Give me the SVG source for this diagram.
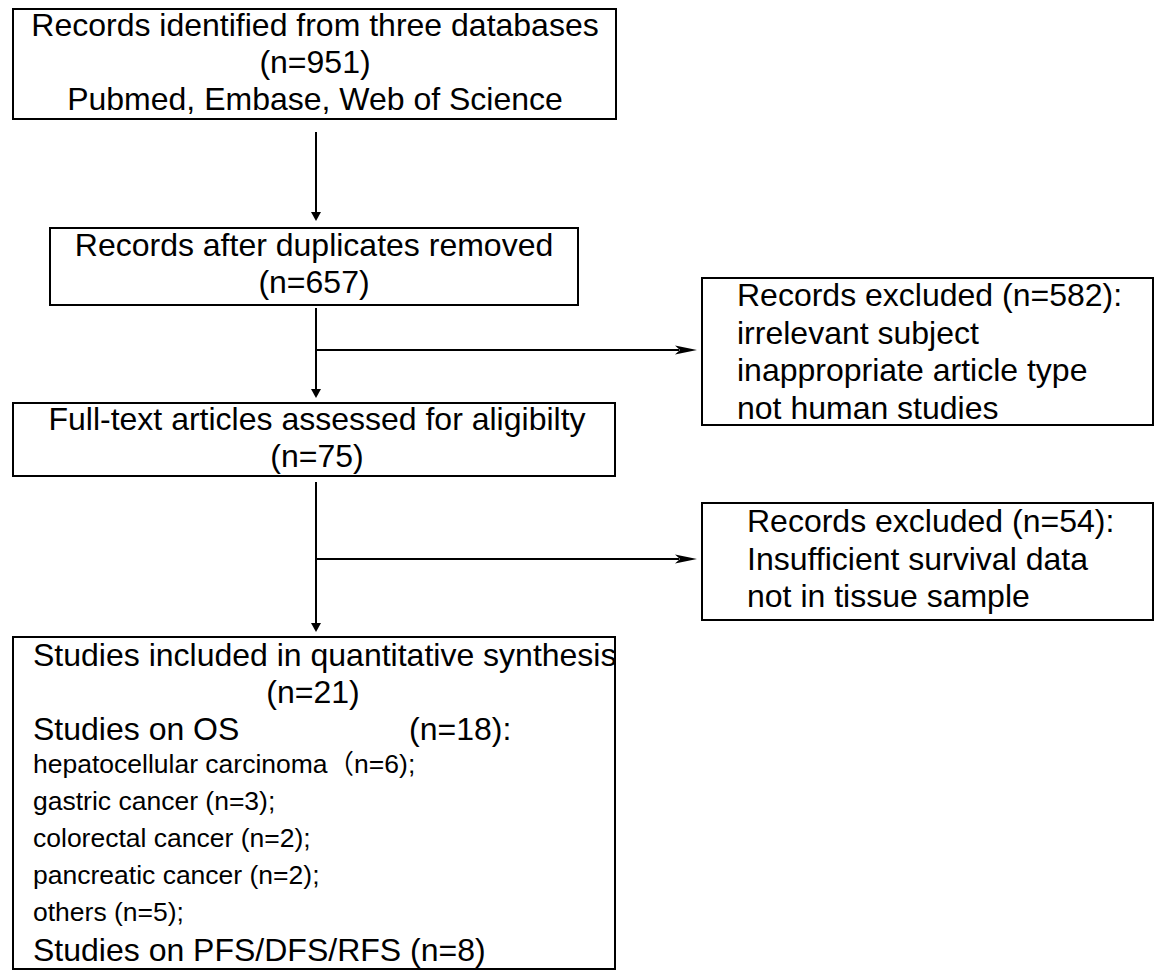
<svg xmlns="http://www.w3.org/2000/svg" width="1156" height="970" viewBox="0 0 1156 970">
<style>
.box{fill:#fff;stroke:#000;stroke-width:2}
.t{font-family:"Liberation Sans",Arial,"Noto Sans CJK SC",sans-serif;font-size:32px;fill:#000}
.s{font-size:26.5px}
.c{text-anchor:middle}
.ln{stroke:#000;stroke-width:2;fill:none}
</style>
<defs>
<marker id="av" markerUnits="userSpaceOnUse" markerWidth="10" markerHeight="10" refX="0" refY="5" orient="auto" overflow="visible">
<path d="M0,0 L9,5 L0,10 Z" fill="#000"/>
</marker>
<marker id="ah" markerUnits="userSpaceOnUse" markerWidth="22" markerHeight="10" refX="4" refY="5" orient="auto" overflow="visible">
<path d="M0,0.5 L22,5 L0,9.5 L5,5 Z" fill="#000"/>
</marker>
</defs>
<rect width="1156" height="970" fill="#fff"/>
<g id="connectors">
<line class="ln" x1="316" y1="132" x2="316" y2="212" marker-end="url(#av)"/>
<line class="ln" x1="316" y1="308" x2="316" y2="389" marker-end="url(#av)"/>
<line class="ln" x1="316" y1="482" x2="316" y2="623" marker-end="url(#av)"/>
<line class="ln" x1="317" y1="350" x2="679" y2="350" marker-end="url(#ah)"/>
<line class="ln" x1="317" y1="559" x2="679" y2="559" marker-end="url(#ah)"/>
</g>
<g id="identified">
<rect class="box" x="13" y="9" width="603" height="110"/>
<text class="t c" x="315" y="36">Records identified from three databases</text>
<text class="t c" x="315" y="73">(n=951)</text>
<text class="t c" x="315" y="110">Pubmed, Embase, Web of Science</text>
</g>
<g id="duplicates">
<rect class="box" x="50" y="228" width="528" height="77"/>
<text class="t c" x="314" y="256">Records after duplicates removed</text>
<text class="t c" x="314" y="293">(n=657)</text>
</g>
<g id="excluded1">
<rect class="box" x="702" y="278" width="451" height="147"/>
<text class="t" x="737" y="306">Records excluded (n=582):</text>
<text class="t" x="737" y="343.5">irrelevant subject</text>
<text class="t" x="737" y="381">inappropriate article type</text>
<text class="t" x="737" y="418.5">not human studies</text>
</g>
<g id="fulltext">
<rect class="box" x="13" y="403" width="602" height="73"/>
<text class="t c" x="317" y="430">Full-text articles assessed for aligibilty</text>
<text class="t c" x="317" y="467">(n=75)</text>
</g>
<g id="excluded2">
<rect class="box" x="702" y="503" width="451" height="117"/>
<text class="t" x="747" y="532">Records excluded (n=54):</text>
<text class="t" x="747" y="569.5">Insufficient survival data</text>
<text class="t" x="747" y="607">not in tissue sample</text>
</g>
<g id="included">
<rect class="box" x="13" y="637" width="602" height="332"/>
<text class="t" x="33" y="666">Studies included in quantitative synthesis</text>
<text class="t c" x="313" y="703">(n=21)</text>
<text class="t" x="33" y="740">Studies on OS<tspan x="409">(n=18):</tspan></text>
<text class="t s" x="33" y="773">hepatocellular carcinoma（n=6);</text>
<text class="t s" x="33" y="810">gastric cancer (n=3);</text>
<text class="t s" x="33" y="847">colorectal cancer (n=2);</text>
<text class="t s" x="33" y="884">pancreatic cancer (n=2);</text>
<text class="t s" x="33" y="921">others (n=5);</text>
<text class="t" x="33" y="961">Studies on PFS/DFS/RFS (n=8)</text>
</g>
</svg>
